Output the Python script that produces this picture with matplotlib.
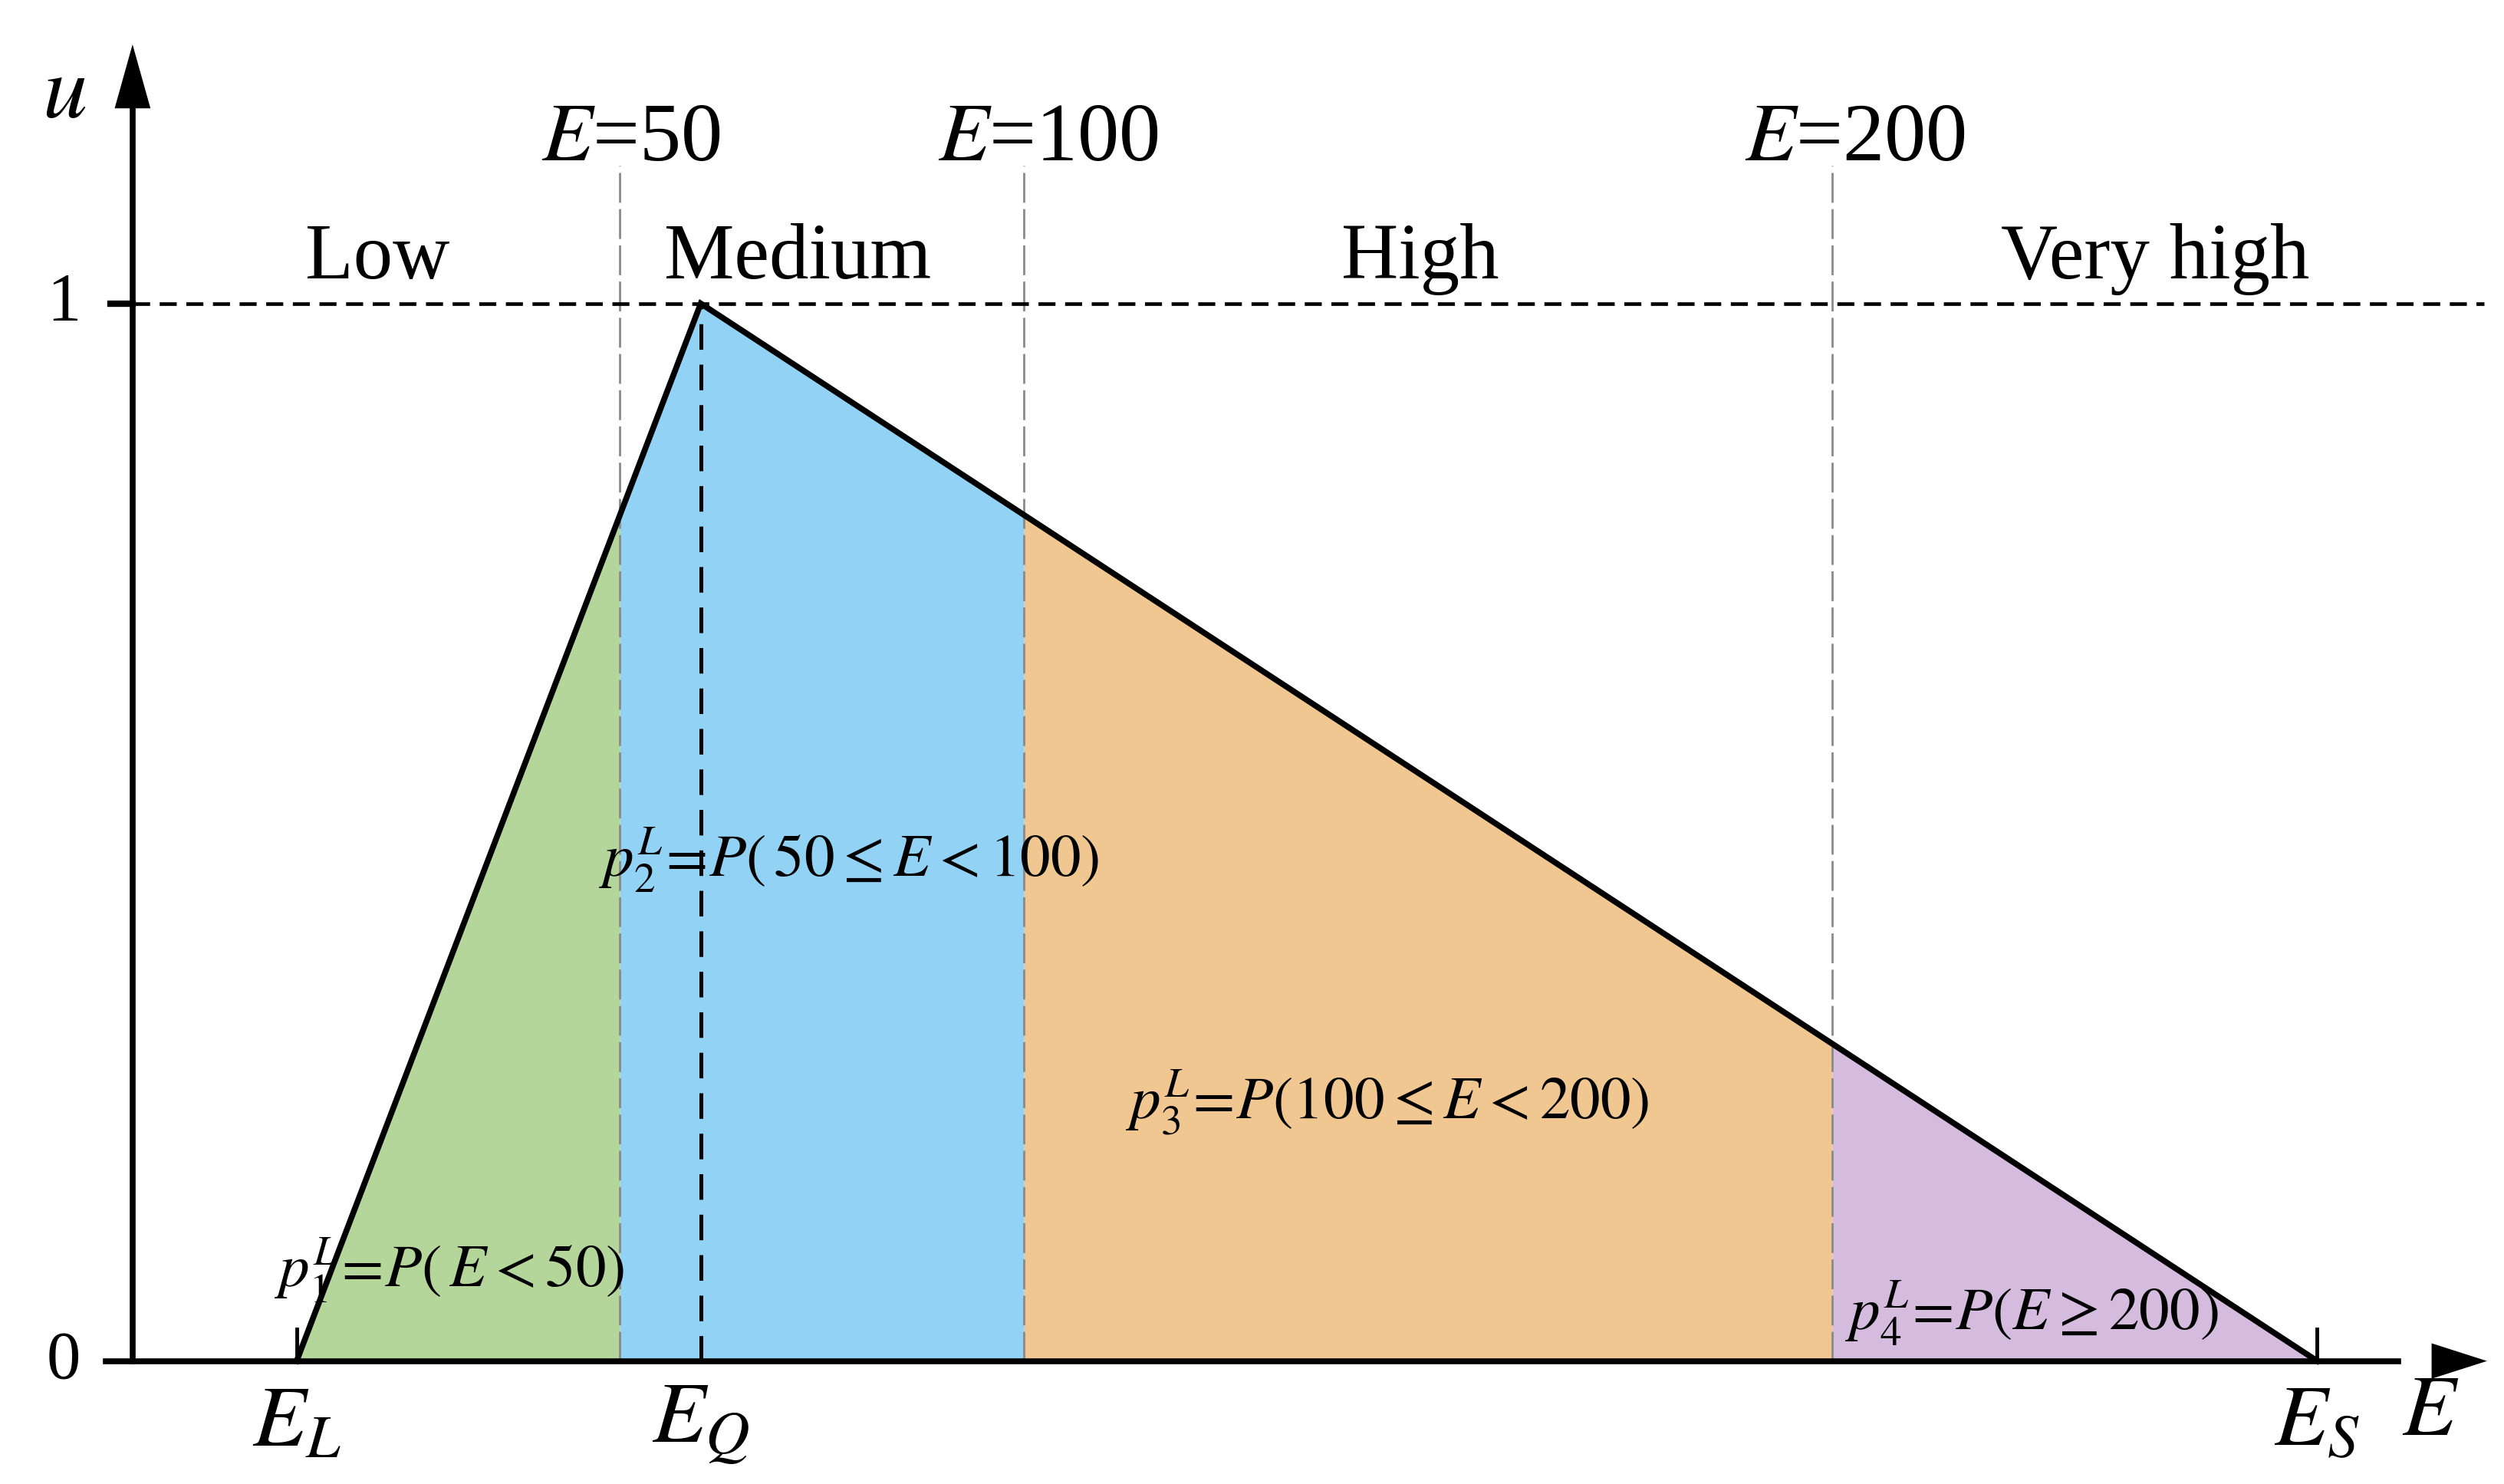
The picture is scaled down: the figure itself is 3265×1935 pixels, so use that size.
import numpy as np
import matplotlib
matplotlib.use("Agg")
import matplotlib.pyplot as plt

plt.rcParams['font.family'] = ['Liberation Serif', 'DejaVu Serif']
plt.rcParams['mathtext.fontset'] = 'stix'
plt.rcParams['lines.scale_dashes'] = False

# membership triangle (E_L, E_Q, E_S) and class thresholds
tri_E = [10, 60, 260]
tri_u = [0, 1, 0]
cortes = [50, 100, 200]
classes = ['Low', 'Medium', 'High', 'Very high']
classe_x = [20, 72, 149, 240]
cores = ['#B5D69B', '#92D3F5', '#F0C691', '#D5BBDE']
rotulos_p = [r'$p_1^L\!=\!P\left(\,E<50\right)$',
             r'$p_2^L\!=\!P\left(\,50\leq E<100\right)$',
             r'$p_3^L\!=\!P\left(100\leq E<200\right)$',
             r'$p_4^L\!=\!P\left(E\geq 200\right)$']
p_pos = [(7.3, 0.086), (47.4, 0.474), (112.6, 0.245), (201.6, 0.045)]
rotulos_E = [r'$E_L$', r'$E_Q$', r'$E_S$']

fig = plt.figure(figsize=(32.66, 19.35), dpi=100)
ax = fig.add_axes([0, 0, 1, 1])
ax.set_xlim(-26.7, 283.2)
ax.set_ylim(-0.1163, 1.287)
ax.axis('off')

# preenchimento de cada classe sob o triangulo
limites = [tri_E[0]] + cortes + [tri_E[2]]
for i in range(4):
    xs = np.linspace(limites[i], limites[i + 1], 400)
    if limites[i] < tri_E[1] < limites[i + 1]:
        xs = np.sort(np.append(xs, tri_E[1]))
    us = np.interp(xs, tri_E, tri_u)
    ax.fill_between(xs, 0, us, color=cores[i], lw=0, zorder=1)

# linhas verticais tracejadas cinza
for c in cortes:
    ax.plot([c, c], [0, 1.13], color='#8a8a8a', lw=2.0, linestyle=(0, (28, 6)), zorder=2)

# linha tracejada em E_Q
ax.plot([tri_E[1], tri_E[1]], [0, 1], color='black', lw=3.6, linestyle=(0, (24, 14)), zorder=3)

# linha horizontal u=1
ax.plot([-10.3, 280.6], [1, 1], color='black', lw=3.4, linestyle=(0, (16, 9)), zorder=3)

# triangulo
ax.plot(tri_E, tri_u, color='black', lw=5.5, solid_joinstyle='miter', zorder=4)

# eixos com setas
ax.plot([-13.6, 270], [0, 0], color='black', lw=5.5, zorder=5)
ax.plot([-10.3, -10.3], [0, 1.19], color='black', lw=5.5, zorder=5)
ax.annotate('', xy=(281.0, 0), xytext=(268, 0),
            arrowprops=dict(arrowstyle='-|>,head_length=1.0,head_width=0.32',
                            mutation_scale=52, color='black', lw=0,
                            shrinkA=0, shrinkB=0), zorder=6)
ax.annotate('', xy=(-10.3, 1.245), xytext=(-10.3, 1.16),
            arrowprops=dict(arrowstyle='-|>,head_length=1.0,head_width=0.28',
                            mutation_scale=60, color='black', lw=0,
                            shrinkA=0, shrinkB=0), zorder=6)

# pequenas marcas
ax.plot([-13.0, -10.3], [1, 1], color='black', lw=6, zorder=5)
for e in [tri_E[0], tri_E[2]]:
    ax.plot([e, e], [0, 0.03], color='black', lw=3.5, zorder=5)

# textos
ax.text(-18.8, 1.196, r'$u$', fontsize=84, ha='center', va='center')
ax.text(-18.8, 1.0, '1', fontsize=64, ha='center', va='center')
ax.text(-18.8, 0.0, '0', fontsize=64, ha='center', va='center')

for nome, x in zip(classes, classe_x):
    ax.text(x, 1.042, nome, fontsize=74, ha='center', va='center')

for c, dx in zip(cortes, [1.4, 3.0, 2.8]):
    ax.text(c + dx, 1.154, r'$E$=' + str(c), fontsize=78, ha='center', va='center')

for txt, (x, y) in zip(rotulos_p, p_pos):
    ax.text(x, y, txt, fontsize=57, ha='left', va='center', zorder=7)

for txt, e in zip(rotulos_E, tri_E):
    ax.text(e, -0.06, txt, fontsize=82, ha='center', va='center')
ax.text(274, -0.05, r'$E$', fontsize=82, ha='center', va='center')

fig.savefig('out.png', dpi=100)
